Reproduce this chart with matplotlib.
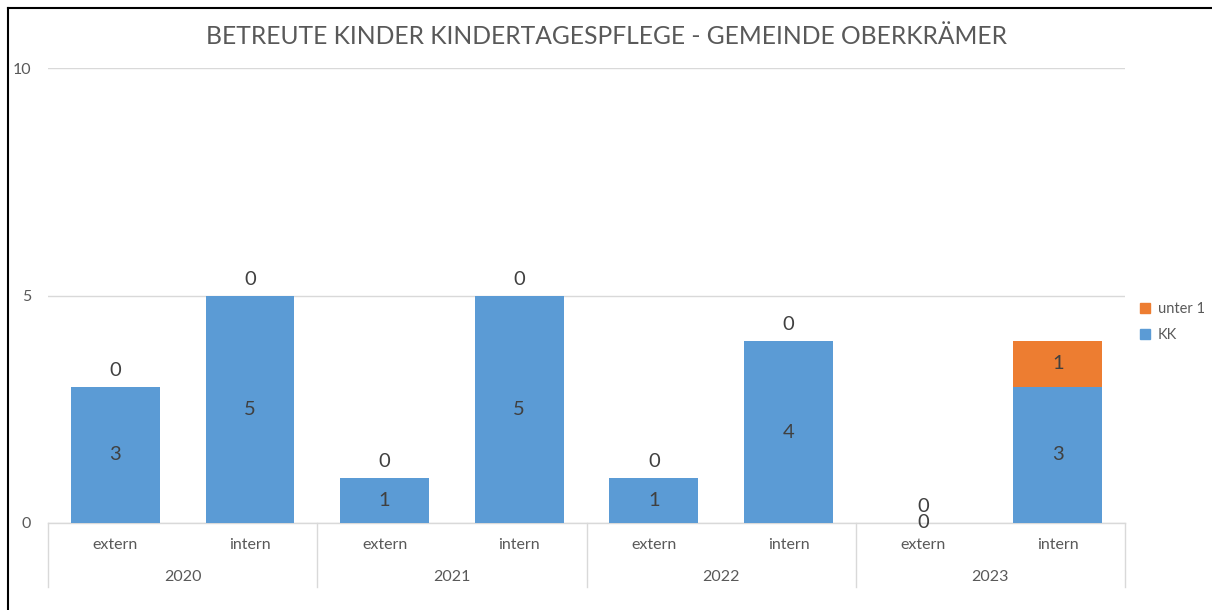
import numpy as np
import matplotlib
matplotlib.use("Agg")
import matplotlib.pyplot as plt
from matplotlib.lines import Line2D
from matplotlib.patches import Patch

years = ["2020", "2021", "2022", "2023"]
types = ["extern", "intern"]
kk = [3, 5, 1, 5, 1, 4, 0, 3]
unter1 = [0, 0, 0, 0, 0, 0, 0, 1]

blue = "#5B9BD5"
orange = "#ED7D31"
grey = "#595959"
dark = "#404040"
plt.rcParams["font.family"] = ["Lato", "DejaVu Sans"]

fig = plt.figure(figsize=(12.12, 6.10), dpi=100)
ax = fig.add_axes([48 / 1212, 1 - 523 / 610, (1125 - 48) / 1212, (523 - 68) / 610])

x = np.arange(len(kk))
w = 0.66
ax.bar(x, kk, w, color=blue, zorder=3)
ax.bar(x, unter1, w, bottom=kk, color=orange, zorder=3)

for i in range(len(kk)):
    ax.text(x[i], kk[i] / 2, str(kk[i]), ha="center", va="center", fontsize=14.5, color=dark, zorder=4)
    top = kk[i] + unter1[i]
    if unter1[i] == 0:
        ax.annotate("0", (x[i], top), xytext=(0, 16), textcoords="offset pixels",
                    ha="center", va="center", fontsize=14.5, color=dark)
    else:
        ax.text(x[i], kk[i] + unter1[i] / 2, str(unter1[i]), ha="center", va="center",
                fontsize=14.5, color=dark, zorder=4)

ax.set_xlim(-0.5, len(kk) - 0.5)
ax.set_ylim(0, 10)
ax.set_yticks([0, 5, 10])
ax.yaxis.grid(True, color="#D9D9D9", lw=1)
ax.set_axisbelow(True)
ax.tick_params(axis="y", length=0, labelsize=11.5, labelcolor=grey, pad=12)
ax.set_xticks([])
for s in ax.spines.values():
    s.set_visible(False)

# two-level category axis
tr = ax.get_xaxis_transform()
ax.plot([-0.5, len(kk) - 0.5], [0, 0], transform=tr, color="#D9D9D9", lw=1, clip_on=False)
for b in np.arange(-0.5, len(kk), 2):
    ax.plot([b, b], [0, -0.1407], transform=tr, color="#D9D9D9", lw=1, clip_on=False)
for i in range(len(kk)):
    ax.text(x[i], -0.048, types[i % 2], transform=tr, ha="center", va="center", fontsize=11.5, color=grey)
for j, y in enumerate(years):
    ax.text(2 * j + 0.5, -0.119, y, transform=tr, ha="center", va="center", fontsize=11.5, color=grey)

fig.text(0.5, 1 - 36 / 610, "BETREUTE KINDER KINDERTAGESPFLEGE - GEMEINDE OBERKRÄMER",
         ha="center", va="center", fontsize=17.7, color=grey)

handles = [Patch(color=orange), Patch(color=blue)]
fig.legend(handles, ["unter 1", "KK"], loc="center left", bbox_to_anchor=(1127 / 1212, 1 - 322 / 610),
           frameon=False, fontsize=10.5, handlelength=0.7, handleheight=0.7, handletextpad=0.5,
           labelcolor=grey, labelspacing=0.8)

fig.add_artist(Line2D([8 / 1212, 8 / 1212], [0, 1 - 8 / 610], color="black", lw=1.5))
fig.add_artist(Line2D([8 / 1212, 1], [1 - 8 / 610, 1 - 8 / 610], color="black", lw=1.5))

fig.savefig("out.png", dpi=100)
